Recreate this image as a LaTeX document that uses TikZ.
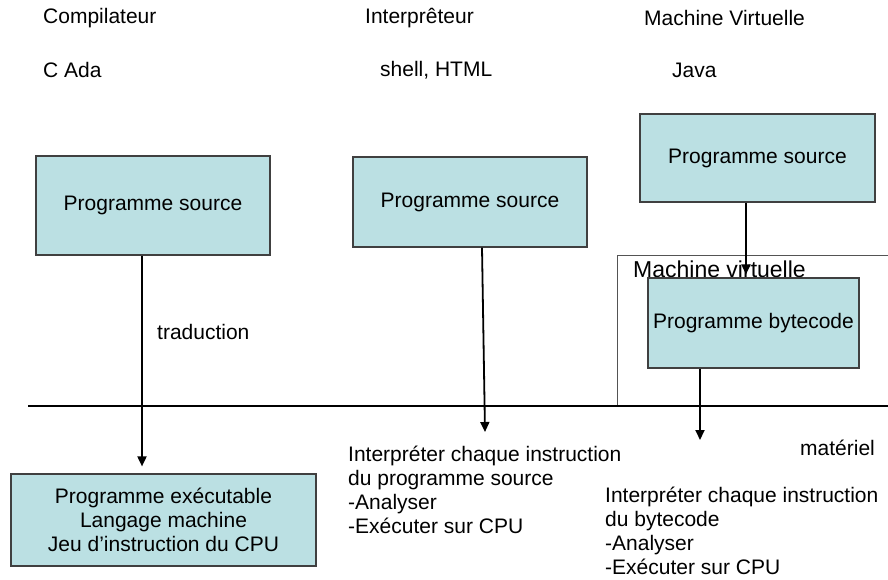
\documentclass[tikz,border=0pt]{standalone}
\usepackage{fontspec}
\setmainfont{Liberation Sans}
\usetikzlibrary{arrows.meta}
\begin{document}
\begin{tikzpicture}[x=1pt,y=-1pt,
    box/.style={draw=black!75,line width=1.2pt,fill=kCyan,inner sep=0pt,
      font=\fontsize{21}{24}\selectfont,align=center},
    txt/.style={anchor=west,inner sep=0pt,font=\fontsize{21}{24}\selectfont,align=left},
    arr/.style={line width=1.8pt,-{Triangle[length=10pt,width=9pt]}}]
  % colors
  \definecolor{kCyan}{RGB}{187,224,227}
  \definecolor{kGrey}{rgb}{0.33,0.33,0.33}
  \useasboundingbox (0,0) rectangle (888,579);
  % titles
  \node[txt] (tComp) at (43,18) {Compilateur};
  \node[txt] (tInterp) at (365,18) {Interprêteur};
  \node[txt] (tVM) at (644,18) {Machine Virtuelle};
  \node[txt] (lComp) at (43,70) {C Ada};
  \node[txt] (lInterp) at (380,70) {shell, HTML};
  \node[txt] (lVM) at (672,70) {Java};
  % source boxes
  \node[box,minimum width=234pt,minimum height=99pt] (srcComp) at (153,205.5) {Programme source};
  \node[box,minimum width=234pt,minimum height=90pt] (srcInterp) at (470,202) {Programme source};
  \node[box,minimum width=235pt,minimum height=88pt] (srcVM) at (757.5,158) {Programme source};
  % virtual machine frame
  \draw[kGrey,line width=1pt] (617,406) |- (895,255);
  \node[anchor=base west,inner sep=0pt,font=\fontsize{23}{26}\selectfont] (vmLabel) at (633,277) {Machine virtuelle};
  \node[box,minimum width=211pt,minimum height=90pt] (bytecode) at (753.5,323) {Programme bytecode};
  % hardware line
  \coordinate (hwL) at (28,406);
  \coordinate (hwR) at (888,406);
  \draw[line width=1.2pt] (hwL) -- (hwR);
  \node[txt] (hw) at (800,448) {matériel};
  % results
  \node[box,minimum width=305pt,minimum height=92pt] (exe) at (163.5,520)
    {Programme exécutable\\Langage machine\\Jeu d’instruction du CPU};
  \node[txt] (interpText) at (348,490)
    {Interpréter chaque instruction\\du programme source\\-Analyser\\-Exécuter sur CPU};
  \node[txt] (byteText) at (605,531)
    {Interpréter chaque instruction\\du bytecode\\-Analyser\\-Exécuter sur CPU};
  \node[txt] (trad) at (157,332) {traduction};
  % arrows
  \coordinate (iTip) at (485,432);
  \coordinate (bTip) at (700,440);
  \draw[arr,shorten >=7pt] ([xshift=-11pt]srcComp.south) -- ([xshift=-21.5pt]exe.north);
  \draw[arr] ([xshift=12pt]srcInterp.south) -- (iTip);
  \draw[arr,shorten >=3pt] ([xshift=-11.5pt]srcVM.south) -- ([xshift=-7.5pt]bytecode.north);
  \draw[arr] ([xshift=-53.5pt]bytecode.south) -- (bTip);
\end{tikzpicture}
\end{document}
